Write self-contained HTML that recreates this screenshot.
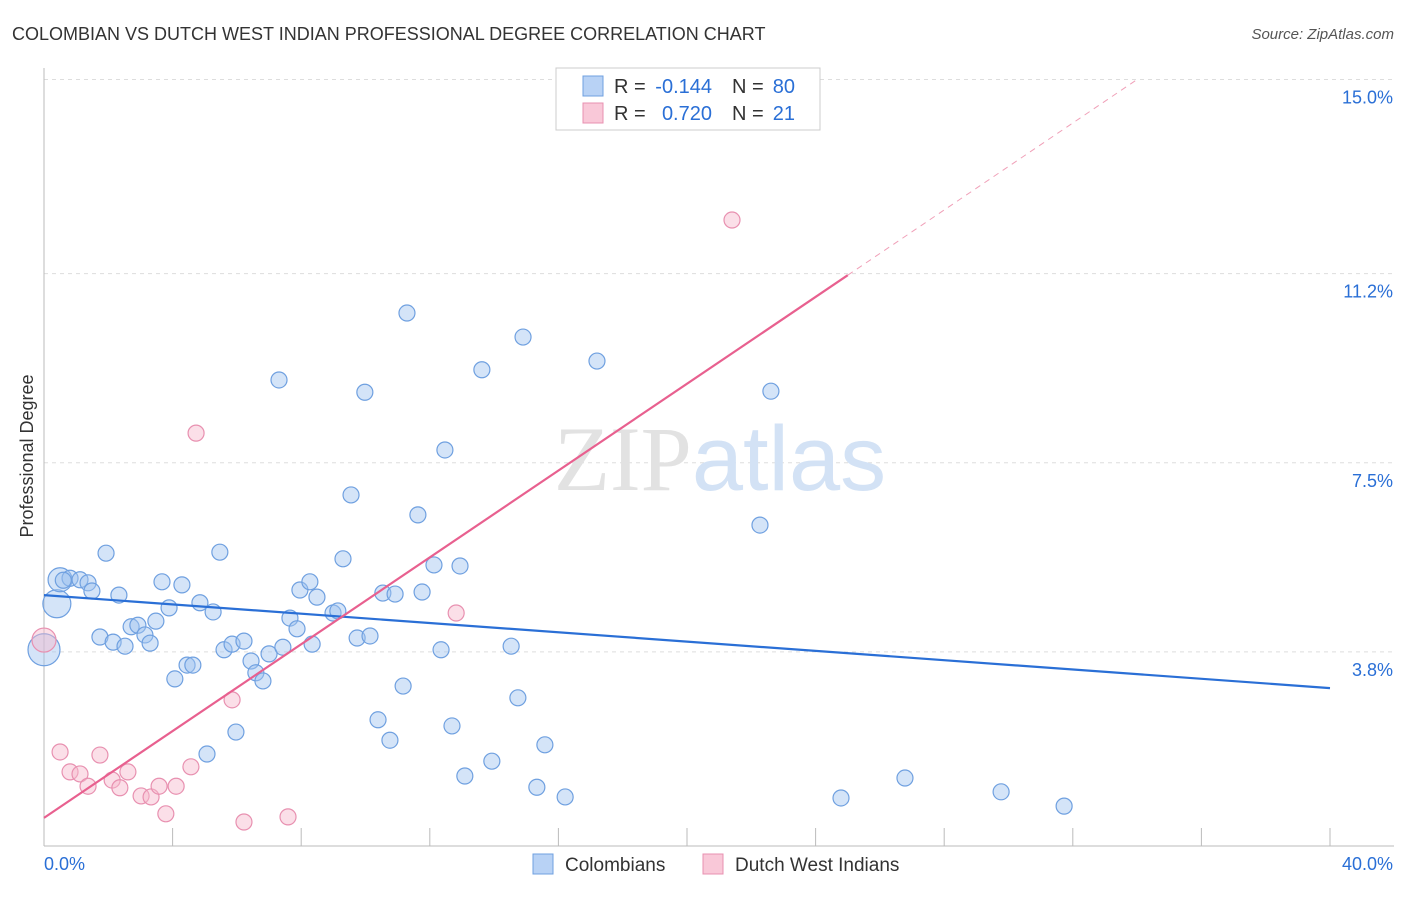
<!DOCTYPE html>
<html><head><meta charset="utf-8">
<style>
body{margin:0;background:#fff;font-family:"Liberation Sans",sans-serif;}
svg text{font-family:"Liberation Sans",sans-serif;}
</style></head>
<body>
<svg id="chart" width="1406" height="892" xmlns="http://www.w3.org/2000/svg">
<text x="12" y="40" font-size="18" fill="#333">COLOMBIAN VS DUTCH WEST INDIAN PROFESSIONAL DEGREE CORRELATION CHART</text>
<text x="1394" y="39" font-size="15" fill="#555" text-anchor="end" font-style="italic">Source: ZipAtlas.com</text>
<text transform="translate(33,456) rotate(-90)" font-size="18" fill="#333" text-anchor="middle">Professional Degree</text>
<g id="grid"></g>
<text x="720" y="490" font-size="92" text-anchor="middle"><tspan fill="#e2e2e2" font-family="Liberation Serif">ZIP</tspan><tspan fill="#d3e2f5">atlas</tspan></text>
<g id="points"></g>
<g id="lines"></g>
<g>
<rect x="556" y="68" width="264" height="62" fill="#fff" stroke="#ccc"/>
<rect x="583" y="76" width="20" height="20" fill="#b8d2f5" stroke="#6fa0e0"/>
<rect x="583" y="103" width="20" height="20" fill="#f9c8d8" stroke="#e890b0"/>
<text x="614" y="93" font-size="20" fill="#333">R =</text>
<text x="712" y="93" font-size="20" fill="#2a6fd6" text-anchor="end">-0.144</text>
<text x="732" y="93" font-size="20" fill="#333">N =</text>
<text x="795" y="93" font-size="20" fill="#2a6fd6" text-anchor="end">80</text>
<text x="614" y="120" font-size="20" fill="#333">R =</text>
<text x="712" y="120" font-size="20" fill="#2a6fd6" text-anchor="end">0.720</text>
<text x="732" y="120" font-size="20" fill="#333">N =</text>
<text x="795" y="120" font-size="20" fill="#2a6fd6" text-anchor="end">21</text>
</g>
<g>
<rect x="533" y="854" width="20" height="20" fill="#b8d2f5" stroke="#6fa0e0"/>
<text x="565" y="871" font-size="19" fill="#333">Colombians</text>
<rect x="703" y="854" width="20" height="20" fill="#f9c8d8" stroke="#e890b0"/>
<text x="735" y="871" font-size="19" fill="#333">Dutch West Indians</text>
</g>
</svg>
<script>
const yTicks=[3.8,7.5,11.2,15.0];
const yTickLabels=["3.8%","7.5%","11.2%","15.0%"];
const xTickCount=[0,4,8,12,16,20,24,28,32,36,40];
const xLabels=["0.0%","40.0%"];
const colX=[0.4,0.5,0.81,1.12,1.37,1.49,1.93,2.33,1.74,2.15,2.52,2.71,2.92,3.14,3.30,3.48,3.67,3.89,4.29,4.07,4.45,4.63,4.85,5.07,5.26,5.47,5.60,5.85,5.97,6.22,6.44,6.59,6.81,7.00,7.31,7.43,7.65,7.87,7.96,8.27,8.34,8.49,8.99,9.14,9.30,9.55,9.74,9.98,10.14,10.39,10.54,10.76,10.92,11.17,11.29,11.63,11.76,12.13,12.35,12.47,12.69,12.94,13.09,13.62,13.93,14.53,14.74,14.90,15.33,15.58,16.21,17.20,22.27,22.61,24.79,26.78,29.77,31.73,0.0,0.6];
const colY=[4.74,5.21,5.24,5.21,5.15,4.99,5.73,4.91,4.09,3.99,3.91,4.29,4.32,4.13,3.97,4.40,5.17,4.66,5.11,3.27,3.54,3.54,4.76,1.80,4.58,5.75,3.84,3.95,2.23,4.01,3.62,3.39,3.23,3.76,9.12,3.89,4.46,4.25,5.01,5.17,3.95,4.87,4.56,4.60,5.62,6.87,4.07,8.88,4.11,2.47,4.95,2.07,4.93,3.13,10.43,6.48,4.97,5.50,3.84,7.75,2.35,5.48,1.37,9.32,1.66,3.91,2.90,9.96,1.15,1.98,0.96,9.49,6.28,8.90,0.94,1.33,1.06,0.78,3.84,5.2];
const colR=[14,12,8,8,8,8,8,8,8,8,8,8,8,8,8,8,8,8,8,8,8,8,8,8,8,8,8,8,8,8,8,8,8,8,8,8,8,8,8,8,8,8,8,8,8,8,8,8,8,8,8,8,8,8,8,8,8,8,8,8,8,8,8,8,8,8,8,8,8,8,8,8,8,8,8,8,8,8,16,8];
const dwiX=[0,0.5,0.81,1.12,1.37,1.74,2.12,2.36,2.61,3.02,3.33,3.58,3.79,4.11,4.57,4.73,5.85,6.22,7.59,12.82,21.40];
const dwiY=[4.03,1.84,1.45,1.41,1.17,1.78,1.29,1.14,1.45,0.98,0.96,1.17,0.63,1.17,1.55,8.08,2.86,0.47,0.57,4.56,12.25];
const colTrend=[[0,4.91],[40,3.09]];
const dwiTrend=[[0,0.55],[25,11.17]];
const dwiDash=[[25,11.17],[34,15]];
const NS="http://www.w3.org/2000/svg";
const X=v=>44+v*32.15, Y=v=>846-v*51.1;
function mk(tag,attrs,parent){const e=document.createElementNS(NS,tag);for(const k in attrs)e.setAttribute(k,attrs[k]);parent.appendChild(e);return e;}
const grid=document.getElementById('grid');
yTicks.forEach((t,i)=>{
 const l=mk('line',{x1:44,x2:1394,y1:Y(t),y2:Y(t),stroke:'#ddd','stroke-dasharray':'4,4'},grid);
 
 const tx=mk('text',{x:1393,y:Y(t)+24,'font-size':18,fill:'#2a6fd6','text-anchor':'end'},grid);tx.textContent=yTickLabels[i];
 
});
const ax=mk('line',{x1:44,x2:44,y1:68,y2:846,stroke:'#bbb'},grid);

const bx=mk('line',{x1:44,x2:1394,y1:846,y2:846,stroke:'#bbb'},grid);

xTickCount.forEach(t=>{const l=mk('line',{x1:X(t),x2:X(t),y1:828,y2:846,stroke:'#bbb'},grid);
 });
const x0=mk('text',{x:44,y:870,'font-size':18,fill:'#2a6fd6'},grid);x0.textContent=xLabels[0];

const x1=mk('text',{x:1393,y:870,'font-size':18,fill:'#2a6fd6','text-anchor':'end'},grid);x1.textContent=xLabels[1];

const pts=document.getElementById('points');
colX.forEach((v,i)=>{const c=mk('circle',{cx:X(v),cy:Y(colY[i]),r:colR[i],fill:'rgba(160,196,240,0.45)',stroke:'#6fa0e0','stroke-width':1.2},pts);
 });
dwiX.forEach((v,i)=>{const c=mk('circle',{cx:X(v),cy:Y(dwiY[i]),r:i==0?12:8,fill:'rgba(247,185,205,0.45)',stroke:'#e890b0','stroke-width':1.2},pts);
 });
const ln=document.getElementById('lines');
const a=mk('line',{x1:X(colTrend[0][0]),y1:Y(colTrend[0][1]),x2:X(colTrend[1][0]),y2:Y(colTrend[1][1]),stroke:'#2a6fd6','stroke-width':2.2},ln);

const b=mk('line',{x1:X(dwiTrend[0][0]),y1:Y(dwiTrend[0][1]),x2:X(dwiTrend[1][0]),y2:Y(dwiTrend[1][1]),stroke:'#e8608f','stroke-width':2.2},ln);

const d=mk('line',{x1:X(dwiDash[0][0]),y1:Y(dwiDash[0][1]),x2:X(dwiDash[1][0]),y2:Y(dwiDash[1][1]),stroke:'#f0a0b8','stroke-width':1,'stroke-dasharray':'6,5'},ln);

</script>
</body></html>
